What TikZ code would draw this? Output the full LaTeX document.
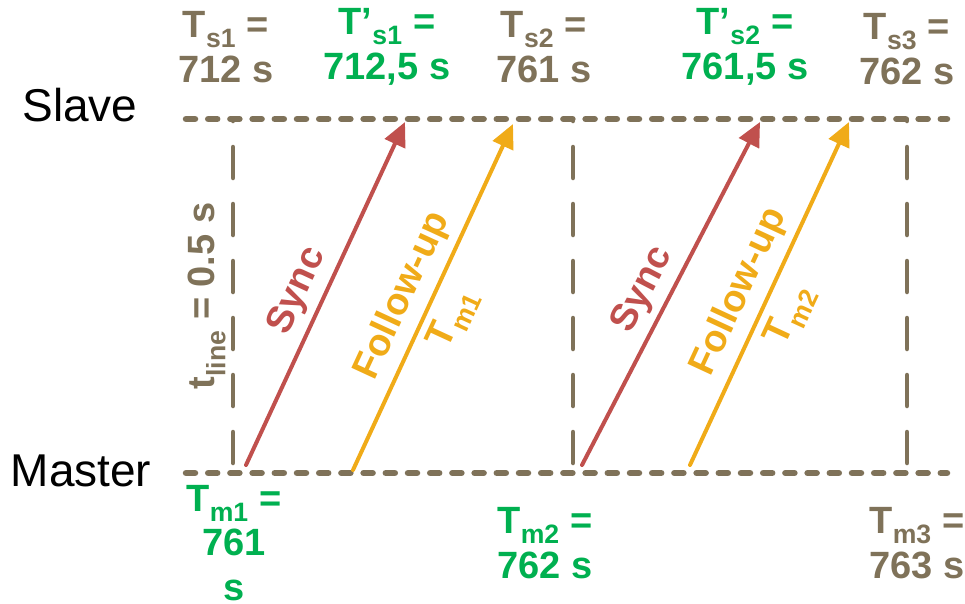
\documentclass[tikz,border=0pt]{standalone}
\usepackage{fontspec}
\setmainfont{Liberation Sans}
\usetikzlibrary{arrows.meta}
\definecolor{taupe}{RGB}{127,114,89}
\definecolor{syncred}{RGB}{192,80,77}
\definecolor{fuorange}{RGB}{240,171,24}
\definecolor{stampgreen}{RGB}{0,176,80}

\begin{document}
\begin{tikzpicture}[x=1pt,y=-1pt,
  lbl/.style={font=\fontsize{38}{44.5}\selectfont\bfseries, align=center, inner sep=0pt},
  side/.style={font=\fontsize{46}{50}\selectfont, inner sep=0pt},
  timeline/.style={taupe, line width=6.5pt, line cap=round, dash pattern=on 9pt off 13.2pt},
  slot/.style={taupe, line width=4.5pt, line cap=round, dash pattern=on 31pt off 26pt},
  msg/.style={line width=4pt, line cap=round, -{Triangle[length=24pt,width=22pt]}},
  msglbl/.style={font=\fontsize{38}{44}\selectfont\bfseries, sloped, inner sep=3pt}]
\clip (0,0) rectangle (965,603);

\node[side] (slave) at (80,105.5) {Slave};
\node[side] (master) at (81,470.5) {Master};

\coordinate (sl-w) at (186,119);
\coordinate (sl-e) at (947,119);
\coordinate (ma-w) at (186,473);
\coordinate (ma-e) at (947,473);
\draw[timeline] (sl-w) -- (sl-e);
\draw[timeline] (ma-w) -- (ma-e);

\coordinate (v1b) at (233,463);
\coordinate (v1t) at (233,119);
\coordinate (v2b) at (573,463);
\coordinate (v2t) at (573,119);
\coordinate (v3b) at (907,463);
\coordinate (v3t) at (907,119);
\draw[slot] (v1b) -- (v1t);
\draw[slot] (v2b) -- (v2t);
\draw[slot] (v3b) -- (v3t);

\coordinate (sy1a) at (246,465);
\coordinate (sy1b) at (405,122);
\coordinate (fu1a) at (353,470);
\coordinate (fu1b) at (513,124);
\coordinate (sy2a) at (582,465);
\coordinate (sy2b) at (760,122);
\coordinate (fu2a) at (690,465);
\coordinate (fu2b) at (849,122);
\draw[msg, syncred] (sy1a) -- node[msglbl, above=4pt, pos=0.475, text=syncred] (sync1) {Sync} (sy1b);
\draw[msg, fuorange] (fu1a) -- node[msglbl, above=5pt, pos=0.47, text=fuorange] (fup1) {Follow-up}
  node[msglbl, below=5pt, pos=0.47, text=fuorange] (tm1lbl) {T\textsubscript{m1}} (fu1b);
\draw[msg, syncred] (sy2a) -- node[msglbl, above=4pt, pos=0.475, text=syncred] (sync2) {Sync} (sy2b);
\draw[msg, fuorange] (fu2a) -- node[msglbl, above=5pt, pos=0.47, text=fuorange] (fup2) {Follow-up}
  node[msglbl, below=5pt, pos=0.47, text=fuorange] (tm2lbl) {T\textsubscript{m2}} (fu2b);

\node[lbl, text=taupe, rotate=90] (tline) at (207,296) {t\textsubscript{line} = 0.5 s};

\node[lbl, text=taupe] (ts1) at (226,47) {T\textsubscript{s1} =\\712 s};
\node[lbl, text=stampgreen] (tps1) at (387,47) {T’\textsubscript{s1} =\\712,5 s};
\node[lbl, text=taupe] (ts2) at (544,47) {T\textsubscript{s2} =\\761 s};
\node[lbl, text=stampgreen] (tps2) at (745,47) {T’\textsubscript{s2} =\\761,5 s};
\node[lbl, text=taupe] (ts3) at (907,49) {T\textsubscript{s3} =\\762 s};

\node[lbl, text=stampgreen] (tm1) at (234,543) {T\textsubscript{m1} =\\761\\s};
\node[lbl, text=stampgreen] (tm2) at (545,543) {T\textsubscript{m2} =\\762 s};
\node[lbl, text=taupe] (tm3) at (917,543) {T\textsubscript{m3} =\\763 s};
\end{tikzpicture}
\end{document}
